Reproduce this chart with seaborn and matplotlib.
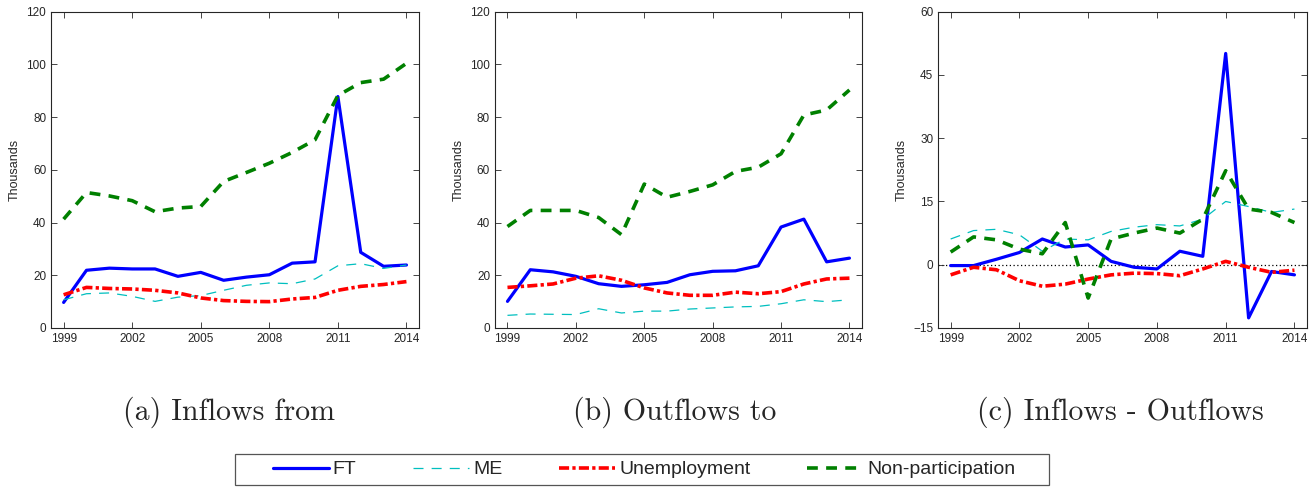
import numpy as np
import pandas as pd
import matplotlib
matplotlib.use("Agg")
import matplotlib.pyplot as plt
from matplotlib.patches import Rectangle
import seaborn as sns

years = list(range(1999, 2015))

# (a) inflows from
ft_in = [9.7, 21.9, 22.7, 22.4, 22.4, 19.6, 21.1, 18.1, 19.3, 20.2, 24.6, 25.1, 87.8, 28.7, 23.4, 23.9]
me_in = [10.7, 13.0, 13.3, 12.0, 10.1, 11.7, 12.3, 14.3, 16.2, 17.1, 16.8, 18.6, 23.6, 24.4, 22.6, 23.9]
un_in = [12.6, 15.4, 15.0, 14.8, 14.3, 13.3, 11.4, 10.4, 10.1, 10.0, 11.0, 11.6, 14.3, 15.8, 16.5, 17.6]
np_in = [41.3, 51.4, 50.1, 48.3, 44.1, 45.5, 46.1, 55.6, 59.0, 62.5, 66.6, 71.4, 88.2, 93.1, 94.4, 100.4]

# (b) outflows to
ft_out = [10.1, 22.1, 21.3, 19.6, 16.8, 15.8, 16.4, 17.3, 20.2, 21.5, 21.7, 23.6, 38.3, 41.3, 25.1, 26.5]
me_out = [4.8, 5.3, 5.2, 5.1, 7.3, 5.7, 6.4, 6.4, 7.2, 7.6, 8.0, 8.2, 9.2, 10.7, 10.0, 10.7]
un_out = [15.4, 16.0, 16.7, 18.9, 19.8, 18.1, 15.2, 13.3, 12.4, 12.4, 13.6, 13.0, 13.8, 16.7, 18.6, 18.9]
np_out = [38.5, 44.6, 44.6, 44.6, 41.9, 35.4, 54.6, 49.6, 51.8, 54.3, 59.4, 61.0, 66.1, 80.8, 82.7, 90.3]

# (c) inflows - outflows
ft_net = [-0.2, -0.2, 1.3, 2.9, 6.1, 4.2, 4.7, 0.8, -0.6, -1.0, 3.2, 2.0, 50.1, -12.6, -1.6, -2.4]
me_net = [6.1, 8.1, 8.4, 7.1, 3.2, 6.1, 5.9, 7.9, 8.9, 9.5, 9.2, 10.8, 15.0, 13.8, 12.4, 13.2]
un_net = [-2.4, -0.6, -1.2, -3.8, -5.1, -4.6, -3.4, -2.4, -2.0, -2.1, -2.6, -1.0, 0.8, -0.6, -1.8, -1.3]
np_net = [3.0, 6.6, 5.9, 3.7, 2.6, 10.0, -7.9, 6.1, 7.5, 8.7, 7.5, 10.8, 22.3, 13.2, 12.4, 10.0]

series_names = ["FT", "ME", "Unemployment", "Non-participation"]
captions = ["(a) Inflows from", "(b) Outflows to", "(c) Inflows - Outflows"]

sns.set_style("ticks")
plt.rcParams["font.family"] = ["Liberation Sans", "DejaVu Sans"]

styles = {
    "FT": dict(color="#0000ff", lw=2.3, linestyle="-"),
    "ME": dict(color="#00bfbf", lw=0.9, linestyle=(0, (8, 6.5))),
    "Unemployment": dict(color="#ff0000", lw=2.6, linestyle=(0, (2.8, 0.9, 0.9, 0.9))),
    "Non-participation": dict(color="#008000", lw=2.6, linestyle=(0, (3, 2.3))),
}

panels = [
    [ft_in, me_in, un_in, np_in],
    [ft_out, me_out, un_out, np_out],
    [ft_net, me_net, un_net, np_net],
]

fig = plt.figure(figsize=(13.16, 4.87), dpi=100)
lefts = [0.0388, 0.3761, 0.7128]
widths = [0.2796, 0.2789, 0.2804]
caption_x = [0.174, 0.513, 0.851]

for i, vals in enumerate(panels):
    ax = fig.add_axes([lefts[i], 0.3265, widths[i], 0.6495])
    df = pd.DataFrame({"year": years})
    for name, v in zip(series_names, vals):
        df[name] = v
        sns.lineplot(data=df, x="year", y=name, ax=ax, label=name, **styles[name])
    if i == 2:
        ax.axhline(0, color="black", lw=0.9, linestyle=(0, (1, 2)), zorder=0)
        ax.set_ylim(-15, 60)
        ax.set_yticks(np.arange(-15, 61, 15))
    else:
        ax.set_ylim(0, 120)
        ax.set_yticks(np.arange(0, 121, 20))
    ax.set_xlim(1998.45, 2014.55)
    ax.set_xticks(np.arange(1999, 2015, 3))
    ax.set_xlabel("")
    ax.set_ylabel("Thousands", fontsize=9, color="#262626")
    ax.tick_params(direction="in", top=True, right=True, length=4, width=0.6,
                   labelsize=8.5, labelcolor="#262626", color="#262626")
    for sp in ax.spines.values():
        sp.set_linewidth(0.8)
        sp.set_color("#262626")
    ax.get_legend().remove()
    fig.text(caption_x[i], 0.139, captions[i], ha="center", va="baseline",
             fontsize=21.5, family="cmr10")
    if i == 0:
        handles, labels = ax.get_legend_handles_labels()

leg = fig.legend(handles, labels, loc="center", bbox_to_anchor=(0.4894, 0.0359),
                 ncol=4, fontsize=14, frameon=False,
                 handlelength=2.88, handletextpad=0.2, columnspacing=2.93,
                 borderpad=0)
fig.patches.append(Rectangle((0.1786, 0.0041), 0.6185, 0.0637, transform=fig.transFigure,
                             fill=False, edgecolor="#555555", lw=0.9))

fig.savefig("out.png", dpi=100)
